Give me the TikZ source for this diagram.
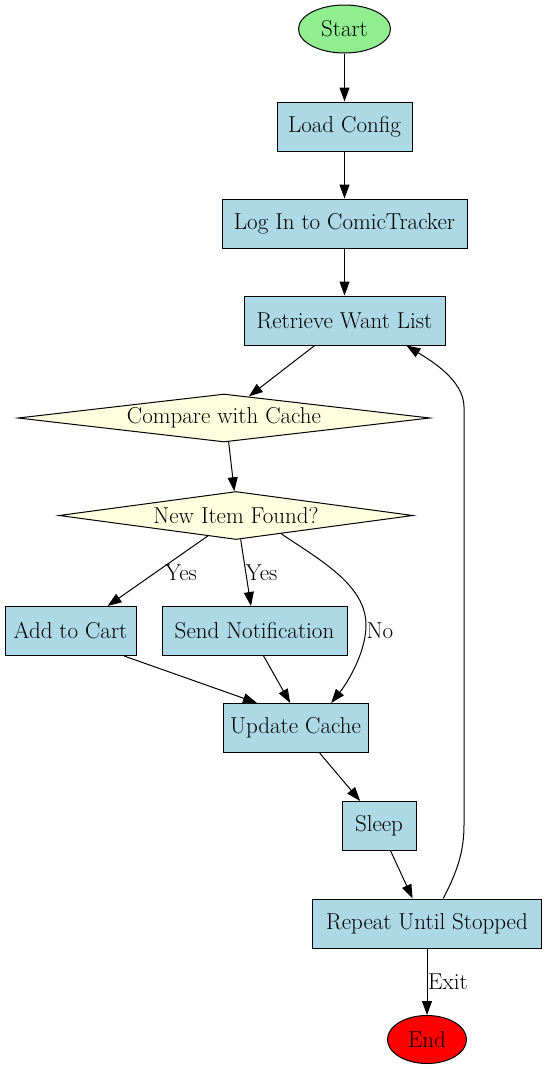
\documentclass[tikz,border=0pt]{standalone}
\usetikzlibrary{shapes.geometric,arrows.meta}
\definecolor{lblue}{HTML}{ADD8E6}
\definecolor{lgreen}{HTML}{90EE90}
\definecolor{lyellow}{HTML}{FFFFE0}
\definecolor{gvred}{HTML}{FF0000}
\begin{document}
\begin{tikzpicture}[x=1pt,y=-1pt,
  every node/.style={font=\fontsize{23}{27}\selectfont},
  proc/.style={rectangle,draw,fill=lblue,line width=1pt,minimum height=49pt,inner sep=0pt},
  dec/.style={diamond,draw,fill=lyellow,line width=1pt,aspect=8.6,inner sep=0pt,minimum height=48pt},
  term/.style={ellipse,draw,line width=1pt,inner sep=0pt,minimum height=48pt},
  arr/.style={line width=1pt,-{Triangle[length=14pt,width=10pt]}},
  lbl/.style={inner sep=0pt}]
\useasboundingbox (0,0) rectangle (547,1069);
\node[term,fill=lgreen,minimum width=92pt] (start) at (344.5,29) {Start};
\node[proc,minimum width=135pt] (load) at (344.5,126.5) {Load Config};
\node[proc,minimum width=245pt] (login) at (344.5,223.5) {Log In to ComicTracker};
\node[proc,minimum width=201pt] (retr) at (344.5,320.5) {Retrieve Want List};
\node[dec,minimum width=412pt] (cmp) at (224,418) {Compare with Cache};
\node[dec,minimum width=354pt] (new) at (236,515.5) {New Item Found?};
\node[proc,minimum width=131pt] (add) at (70.5,631) {Add to Cart};
\node[proc,minimum width=185pt] (send) at (254.5,631) {Send Notification};
\node[proc,minimum width=145pt] (upd) at (295.5,728) {Update Cache};
\node[proc,minimum width=74pt] (sleep) at (379,826) {Sleep};
\node[proc,minimum width=229pt] (rep) at (427,923.5) {Repeat Until Stopped};
\node[term,fill=gvred,minimum width=79pt] (end) at (427,1039.5) {End};

\draw[arr] (start) -- (load);
\draw[arr] (load) -- (login);
\draw[arr] (login) -- (retr);
\draw[arr] (retr.220.7) -- (cmp.41.2);
\draw[arr] (cmp.281.8) -- (new.94.8);
\draw[arr] (new.216.9) -- (add.34);
\draw[arr] (new.281.8) -- (send.98);
\draw[arr] (new.338) .. controls (320,560) and (366,585) .. (366,625)
  .. controls (366,652) and (348,682) .. (upd.35.9);
\draw[arr] (add.335.8) -- (upd.147.4);
\draw[arr] (send.290.8) -- (upd.102.4);
\draw[arr] (upd.314.4) -- (sleep.127.2);
\draw[arr] (sleep.295.6) -- (rep.120.6);
\draw[arr] (rep.57.7) .. controls (457,872) and (464,852) .. (464,825) -- (464,407)
  .. controls (464,380) and (430,360) .. (retr.338.4);
\draw[arr] (rep.south) -- (end.north);

\node[lbl] (lyes1) at (181,573) {Yes};
\node[lbl] (lyes2) at (261.5,573) {Yes};
\node[lbl,anchor=west] (lno) at (366.5,631) {No};
\node[lbl,anchor=west] (lexit) at (428,982) {Exit};
\end{tikzpicture}
\end{document}
